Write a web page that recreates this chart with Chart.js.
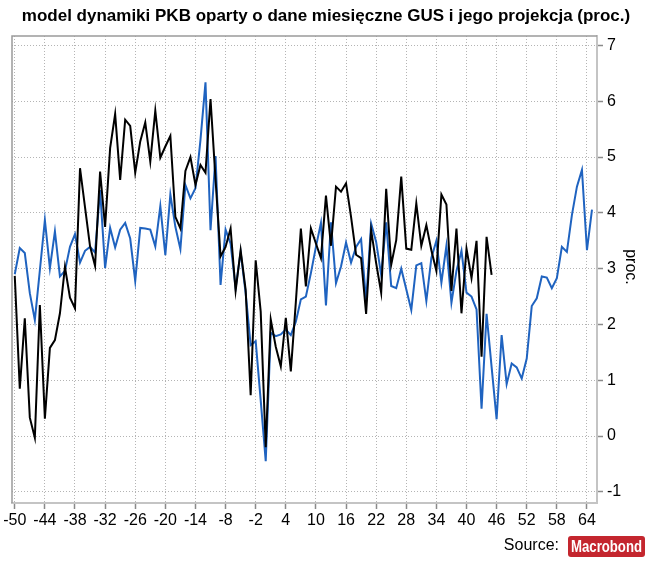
<!DOCTYPE html>
<html>
<head>
<meta charset="utf-8">
<script src="https://cdn.jsdelivr.net/npm/chart.js@4/dist/chart.umd.min.js"></script>
<style>
  html, body { margin: 0; padding: 0; background: #fff; }
  #wrap { width: 650px; height: 564px; }
</style>
</head>
<body>
<div id="wrap"><canvas id="c" width="650" height="564"></canvas></div>
<script>
// ---- data ----
const titleText = "model dynamiki PKB oparty o dane miesięczne GUS i jego projekcja (proc.)";
const yAxisTitle = "proc.";
const sourceLabel = "Source:";
const logoText = "Macrobond";

const months = [
  -50,-49,-48,-47,-46,-45,-44,-43,-42,-41,-40,-39,-38,-37,-36,-35,-34,-33,-32,-31,
  -30,-29,-28,-27,-26,-25,-24,-23,-22,-21,-20,-19,-18,-17,-16,-15,-14,-13,-12,-11,
  -10,-9,-8,-7,-6,-5,-4,-3,-2,-1,0,1,2,3,4,5,6,7,8,9,
  10,11,12,13,14,15,16,17,18,19,20,21,22,23,24,25,26,27,28,29,
  30,31,32,33,34,35,36,37,38,39,40,41,42,43,44,45,46,47,48,49,
  50,51,52,53,54,55,56,57,58,59,60,61,62,63,64,65
];

// black: model based on monthly GUS data (-50 .. 45)
const modelValues = [
  2.87,0.85,2.11,0.33,-0.03,2.35,0.31,1.58,1.72,2.20,3.03,2.48,2.29,4.80,4.10,3.40,3.05,4.74,3.75,5.16,
  5.77,4.59,5.67,5.56,4.72,5.28,5.62,4.92,5.83,4.99,5.19,5.38,3.93,3.72,4.75,5.00,4.50,4.86,4.72,6.04,
  4.60,3.22,3.39,3.72,2.60,3.33,2.62,0.73,3.15,2.23,-0.20,2.09,1.60,1.25,2.12,1.16,2.40,3.72,2.68,3.72,
  3.45,3.19,4.31,3.41,4.47,4.38,4.53,3.93,3.25,3.19,2.19,3.69,3.10,2.57,4.43,3.07,3.51,4.65,3.36,3.34,
  4.17,3.41,3.78,3.33,2.96,4.33,4.15,2.60,3.72,2.20,3.36,2.83,3.50,1.42,3.57,2.89
];

// blue: projection (-50 .. 65)
const projectionValues = [
  2.90,3.37,3.28,2.56,2.08,2.97,3.87,3.01,3.67,2.86,2.96,3.39,3.62,3.11,3.32,3.39,3.29,4.41,3.01,3.73,
  3.38,3.70,3.82,3.54,2.78,3.73,3.72,3.70,3.40,4.12,3.24,4.33,3.75,3.35,4.50,4.26,4.44,5.31,6.34,3.69,
  5.02,2.71,3.70,3.45,2.65,3.30,2.56,1.63,1.70,0.64,-0.45,1.85,1.79,1.82,1.91,1.81,2.05,2.45,2.50,2.92,
  3.39,3.82,2.34,3.83,2.74,3.04,3.47,3.11,3.39,3.53,2.41,3.81,3.48,2.89,3.83,2.69,2.65,3.00,2.63,2.26,
  3.06,3.10,2.42,3.19,3.50,2.75,3.41,2.39,2.96,3.32,2.57,2.50,2.27,0.49,2.19,1.24,0.30,1.81,0.93,1.30,
  1.23,1.03,1.39,2.33,2.47,2.86,2.84,2.65,2.83,3.39,3.30,3.96,4.47,4.77,3.33,4.06
];

const xTickValues = [-50,-44,-38,-32,-26,-20,-14,-8,-2,4,10,16,22,28,34,40,46,52,58,64];
const yTickValues = [-1,0,1,2,3,4,5,6,7];

// ---- chart ----
const FONT = '"Liberation Sans", Arial, sans-serif';
const toPoints = (vals) => vals.map((v, i) => ({ x: months[i], y: v }));

const decor = {
  id: 'decor',
  afterDraw(chart) {
    const ctx = chart.ctx;
    const a = chart.chartArea;
    ctx.save();
    // frame top/left
    ctx.strokeStyle = '#9a9a9a';
    ctx.lineWidth = 1.5;
    ctx.beginPath();
    ctx.moveTo(a.left, a.bottom);
    ctx.lineTo(a.left, a.top);
    ctx.lineTo(a.right, a.top);
    ctx.stroke();
    // title
    ctx.fillStyle = '#000';
    ctx.font = 'bold 17px ' + FONT;
    ctx.textAlign = 'center';
    ctx.textBaseline = 'middle';
    ctx.fillText(titleText, 326, 16);
    // y axis title (rotated clockwise)
    ctx.save();
    ctx.translate(630, 267);
    ctx.rotate(Math.PI / 2);
    ctx.font = '16px ' + FONT;
    ctx.textAlign = 'center';
    ctx.textBaseline = 'middle';
    ctx.fillText(yAxisTitle, 0, 0);
    ctx.restore();
    // source
    ctx.font = '16px ' + FONT;
    ctx.textAlign = 'right';
    ctx.textBaseline = 'middle';
    ctx.fillText(sourceLabel, 559, 546);
    // logo
    const lx = 568, ly = 536, lw = 77, lh = 21;
    ctx.fillStyle = '#c4262e';
    ctx.beginPath();
    if (ctx.roundRect) ctx.roundRect(lx, ly, lw, lh, 3); else ctx.rect(lx, ly, lw, lh);
    ctx.fill();
    ctx.fillStyle = '#fff';
    ctx.font = 'bold 16px "Liberation Sans Narrow", ' + FONT;
    ctx.textAlign = 'left';
    ctx.textBaseline = 'middle';
    const tw = ctx.measureText(logoText).width;
    const target = lw - 6;
    ctx.save();
    ctx.translate(lx + 3, ly + lh / 2 + 1);
    ctx.scale(target / tw, 1);
    ctx.fillText(logoText, 0, 0);
    ctx.restore();
    ctx.restore();
  }
};

new Chart(document.getElementById('c'), {
  type: 'line',
  data: {
    datasets: [
      {
        label: 'model',
        data: toPoints(modelValues),
        borderColor: '#000000',
        borderWidth: 2,
        pointRadius: 0,
        tension: 0,
        order: 1
      },
      {
        label: 'projekcja',
        data: toPoints(projectionValues),
        borderColor: '#1f63c0',
        borderWidth: 2,
        pointRadius: 0,
        tension: 0,
        order: 2
      }
    ]
  },
  options: {
    responsive: false,
    animation: false,
    events: [],
    layout: { padding: { left: 12, top: 36, right: 0, bottom: 0 } },
    plugins: { legend: { display: false }, tooltip: { enabled: false }, title: { display: false } },
    scales: {
      x: {
        type: 'linear',
        position: 'bottom',
        min: -50.55,
        max: 66.0,
        afterBuildTicks: (s) => { s.ticks = xTickValues.map(v => ({ value: v })); },
        afterFit: (s) => { s.height = 61; s.paddingLeft = 0; s.paddingRight = 0; },
        grid: {
          color: '#b4b4b4', lineWidth: 1, drawTicks: true, tickLength: 6,
          tickColor: '#8a8a8a', tickWidth: 1.5, tickBorderDash: []
        },
        border: { display: true, color: '#c4c4c4', width: 2, dash: [1, 2] },
        ticks: {
          color: '#000', font: { family: FONT, size: 16 }, padding: 2,
          maxRotation: 0, autoSkip: false, callback: (v) => String(v)
        }
      },
      y: {
        type: 'linear',
        position: 'right',
        min: -1.2,
        max: 7.17,
        afterBuildTicks: (s) => { s.ticks = yTickValues.map(v => ({ value: v })); },
        afterFit: (s) => { s.width = 53; },
        grid: {
          color: '#b4b4b4', lineWidth: 1, drawTicks: true, tickLength: 6,
          tickColor: '#8a8a8a', tickWidth: 1.5, tickBorderDash: []
        },
        border: { display: true, color: '#c4c4c4', width: 2, dash: [1, 2] },
        ticks: {
          color: '#000', font: { family: FONT, size: 16 }, padding: 4,
          callback: (v) => String(v)
        }
      }
    }
  },
  plugins: [decor]
});
</script>
</body>
</html>
